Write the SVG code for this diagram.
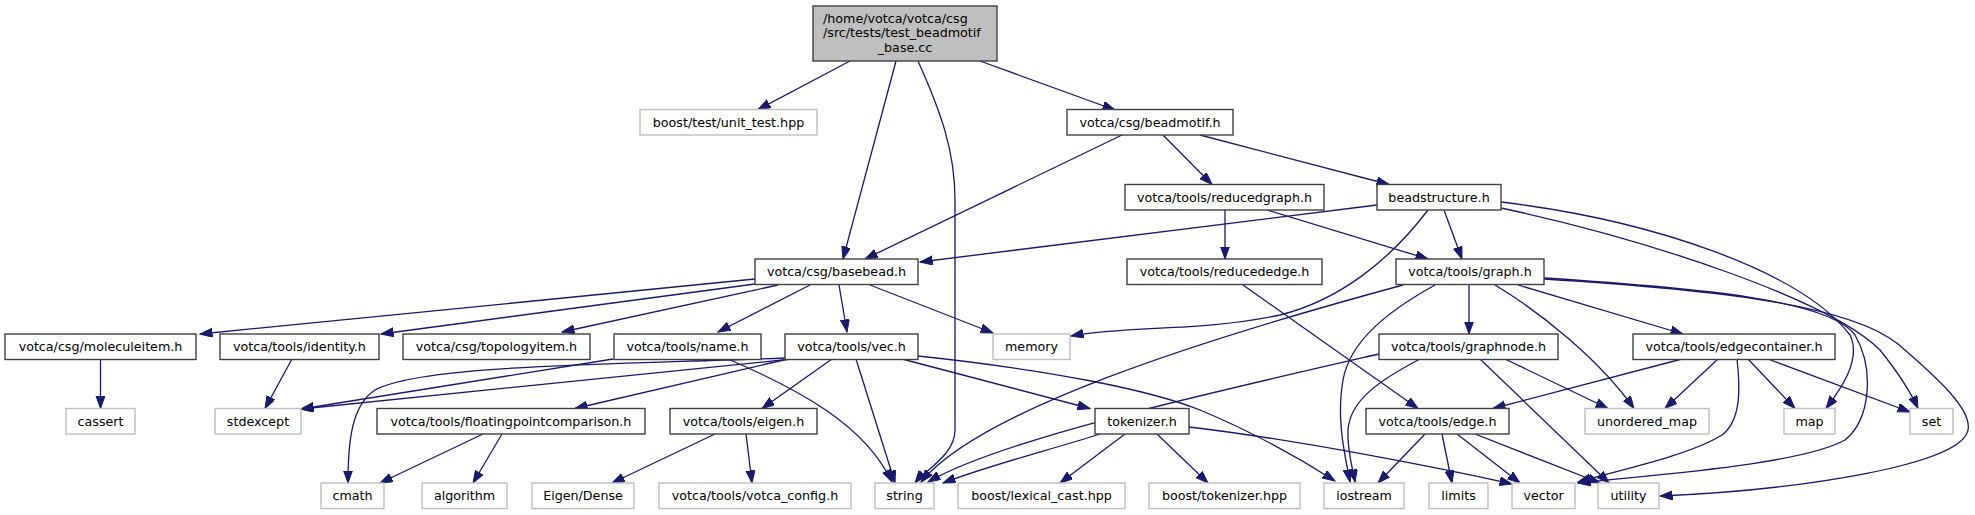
<svg xmlns="http://www.w3.org/2000/svg" width="1975" height="515" viewBox="0 0 1975 515">
<style>
.n rect{fill:#fff;stroke:#404040;stroke-width:1.4}
.r rect{fill:#bfbfbf;stroke:#404040;stroke-width:1.4}
.x rect{fill:#fff;stroke:#bfbfbf;stroke-width:1.4}
text{font-family:"DejaVu Sans","Liberation Sans",sans-serif;font-size:12.7px;text-anchor:middle;fill:#000}
.x text{fill:#000}
#edges path{fill:none;stroke:#191970;stroke-width:1.3;marker-end:url(#a)}
</style>
<defs>
<marker id="a" markerUnits="userSpaceOnUse" markerWidth="14" markerHeight="10" refX="12.5" refY="4.5" orient="auto">
<path d="M0,0 L12.5,4.5 L0,9 z" fill="#191970" stroke="#191970" stroke-width="1"/>
</marker>
</defs>
<rect width="1975" height="515" fill="#fff"/>
<g id="edges">
<path d="M850,61 L758,109.5"/>
<path d="M896,61 L843,259"/>
<path d="M918,61 C940,110 955,150 955,200 L955,430 C955,455 925,470 915,483"/>
<path d="M980,61 L1115,110"/>
<path d="M1122,135 L865,259"/>
<path d="M1163,135 L1212,184.5"/>
<path d="M1200,135 L1389,184.5"/>
<path d="M1225,210 L1225,259"/>
<path d="M1267,210 L1428,259"/>
<path d="M1377,205 L920,262"/>
<path d="M1444,210 L1462,259"/>
<path d="M1428,210 C1390,260 1340,300 1280,315 C1200,332 1130,325 1071,336"/>
<path d="M1501,202 C1650,220 1800,270 1850,335 C1862,360 1840,390 1826,408.5"/>
<path d="M1501,208 C1650,240 1830,300 1880,350 C1900,375 1912,395 1918,408.5"/>
<path d="M755,279 L200,334"/>
<path d="M755,284 L381,334"/>
<path d="M778,285 L562,332"/>
<path d="M810,285 L718,332"/>
<path d="M839,285 L847,332"/>
<path d="M870,285 L993,333"/>
<path d="M100.5,359 L100.5,408.5"/>
<path d="M292,359 L265,408.5"/>
<path d="M613,359 L301,409"/>
<path d="M728,359 C800,390 865,425 892,482"/>
<path d="M785,358 C600,365 420,365 375,390 C352,405 348,440 348,483"/>
<path d="M792,359 L301,409"/>
<path d="M788,359 L575,408.5"/>
<path d="M832,359 L762,408.5"/>
<path d="M856,359 L895,483"/>
<path d="M902,359 L1090,408.5"/>
<path d="M918,356 C1050,370 1150,390 1200,410 C1260,435 1310,465 1335,481"/>
<path d="M483,434 L380,483"/>
<path d="M502,434 L473,483"/>
<path d="M715,434 L612,483"/>
<path d="M746,434 L752,483"/>
<path d="M1100,434 C1050,450 990,465 943,483"/>
<path d="M1125,434 L1060,483"/>
<path d="M1157,434 L1208,483"/>
<path d="M1189,427 C1300,440 1450,470 1512,484"/>
<path d="M1403,285 C1200,340 980,410 921,482"/>
<path d="M1435,285 C1390,310 1350,340 1343,380 C1336,420 1345,455 1350,482"/>
<path d="M1469,285 L1469,334"/>
<path d="M1495,285 C1540,312 1600,360 1634,408.5"/>
<path d="M1518,285 L1683,334"/>
<path d="M1544,278 C1700,288 1830,300 1855,335 C1875,370 1870,420 1845,440 C1800,465 1650,475 1578,483"/>
<path d="M1544,279 C1720,290 1850,305 1898,344 C1940,380 1972,410 1968,430 C1962,465 1800,490 1660,496"/>
<path d="M1379,354 C1200,395 1000,440 928,482"/>
<path d="M1420,359 C1380,380 1350,400 1348,430 C1347,450 1352,465 1355,482"/>
<path d="M1505,359 L1608,408.5"/>
<path d="M1480,359 L1609,483"/>
<path d="M1682,359 L1493,408.5"/>
<path d="M1718,359 L1665,408.5"/>
<path d="M1737,359 C1740,385 1742,420 1722,435 C1690,455 1620,470 1578,482"/>
<path d="M1748,359 L1795,408.5"/>
<path d="M1768,359 L1910,412"/>
<path d="M1243,285 L1418,408.5"/>
<path d="M1425,434 L1378,483"/>
<path d="M1442,434 L1452,483"/>
<path d="M1457,434 L1520,483"/>
<path d="M1475,434 L1600,483"/>
</g>
<g id="root" class="r"><rect x="813" y="6" width="184" height="55"/>
<text x="823" y="23" style="text-anchor:start">/home/votca/votca/csg</text>
<text x="823" y="37.3" style="text-anchor:start">/src/tests/test_beadmotif</text>
<text x="905" y="51.6">_base.cc</text></g>
<g id="unit_test" class="x"><rect x="640" y="109.5" width="177" height="25.5"/><text x="728.5" y="126.5">boost/test/unit_test.hpp</text></g>
<g id="beadmotif" class="n"><rect x="1067" y="109.5" width="166" height="25.5"/><text x="1150" y="126.5">votca/csg/beadmotif.h</text></g>
<g id="reducedgraph" class="n"><rect x="1125" y="184.5" width="199" height="25.5"/><text x="1224.5" y="201.5">votca/tools/reducedgraph.h</text></g>
<g id="beadstructure" class="n"><rect x="1377" y="184.5" width="124" height="25.5"/><text x="1439" y="201.5">beadstructure.h</text></g>
<g id="basebead" class="n"><rect x="755" y="259" width="163" height="25.5"/><text x="836.5" y="276">votca/csg/basebead.h</text></g>
<g id="reducededge" class="n"><rect x="1127" y="259" width="195" height="25.5"/><text x="1224.5" y="276">votca/tools/reducededge.h</text></g>
<g id="graph" class="n"><rect x="1396" y="259" width="148" height="25.5"/><text x="1470" y="276">votca/tools/graph.h</text></g>
<g id="moleculeitem" class="n"><rect x="5" y="334" width="191" height="25.5"/><text x="100.5" y="351">votca/csg/moleculeitem.h</text></g>
<g id="identity" class="n"><rect x="220" y="334" width="159" height="25.5"/><text x="299.5" y="351">votca/tools/identity.h</text></g>
<g id="topologyitem" class="n"><rect x="403" y="334" width="187" height="25.5"/><text x="496.5" y="351">votca/csg/topologyitem.h</text></g>
<g id="name" class="n"><rect x="614" y="334" width="147" height="25.5"/><text x="687.5" y="351">votca/tools/name.h</text></g>
<g id="vec" class="n"><rect x="785" y="334" width="133" height="25.5"/><text x="851.5" y="351">votca/tools/vec.h</text></g>
<g id="memory" class="x"><rect x="993" y="334" width="77" height="25.5"/><text x="1031.5" y="351">memory</text></g>
<g id="graphnode" class="n"><rect x="1379" y="334" width="179" height="25.5"/><text x="1468.5" y="351">votca/tools/graphnode.h</text></g>
<g id="edgecontainer" class="n"><rect x="1633" y="334" width="202" height="25.5"/><text x="1734" y="351">votca/tools/edgecontainer.h</text></g>
<g id="cassert" class="x"><rect x="66" y="408.5" width="69" height="25.5"/><text x="100.5" y="425.5">cassert</text></g>
<g id="stdexcept" class="x"><rect x="215" y="408.5" width="86" height="25.5"/><text x="258" y="425.5">stdexcept</text></g>
<g id="floatingpointcomparison" class="n"><rect x="377" y="408.5" width="268" height="25.5"/><text x="511" y="425.5">votca/tools/floatingpointcomparison.h</text></g>
<g id="eigen" class="n"><rect x="670" y="408.5" width="147" height="25.5"/><text x="743.5" y="425.5">votca/tools/eigen.h</text></g>
<g id="tokenizer" class="n"><rect x="1095" y="408.5" width="94" height="25.5"/><text x="1142" y="425.5">tokenizer.h</text></g>
<g id="edge" class="n"><rect x="1366" y="408.5" width="143" height="25.5"/><text x="1437.5" y="425.5">votca/tools/edge.h</text></g>
<g id="unordered_map" class="x"><rect x="1585" y="408.5" width="124" height="25.5"/><text x="1647" y="425.5">unordered_map</text></g>
<g id="map" class="x"><rect x="1784" y="408.5" width="51" height="25.5"/><text x="1809.5" y="425.5">map</text></g>
<g id="set" class="x"><rect x="1910" y="408.5" width="43" height="25.5"/><text x="1931.5" y="425.5">set</text></g>
<g id="cmath" class="x"><rect x="321" y="483" width="63" height="25.5"/><text x="352.5" y="500">cmath</text></g>
<g id="algorithm" class="x"><rect x="422" y="483" width="85" height="25.5"/><text x="464.5" y="500">algorithm</text></g>
<g id="eigen_dense" class="x"><rect x="532" y="483" width="102" height="25.5"/><text x="583" y="500">Eigen/Dense</text></g>
<g id="votca_config" class="x"><rect x="659" y="483" width="192" height="25.5"/><text x="755" y="500">votca/tools/votca_config.h</text></g>
<g id="string" class="x"><rect x="875" y="483" width="59" height="25.5"/><text x="904.5" y="500">string</text></g>
<g id="lexical_cast" class="x"><rect x="958" y="483" width="167" height="25.5"/><text x="1041.5" y="500">boost/lexical_cast.hpp</text></g>
<g id="boost_tokenizer" class="x"><rect x="1149" y="483" width="151" height="25.5"/><text x="1224.5" y="500">boost/tokenizer.hpp</text></g>
<g id="iostream" class="x"><rect x="1324" y="483" width="80" height="25.5"/><text x="1364" y="500">iostream</text></g>
<g id="limits" class="x"><rect x="1429" y="483" width="59" height="25.5"/><text x="1458.5" y="500">limits</text></g>
<g id="vector" class="x"><rect x="1512" y="483" width="63" height="25.5"/><text x="1543.5" y="500">vector</text></g>
<g id="utility" class="x"><rect x="1598" y="483" width="61" height="25.5"/><text x="1628.5" y="500">utility</text></g>
</svg>
